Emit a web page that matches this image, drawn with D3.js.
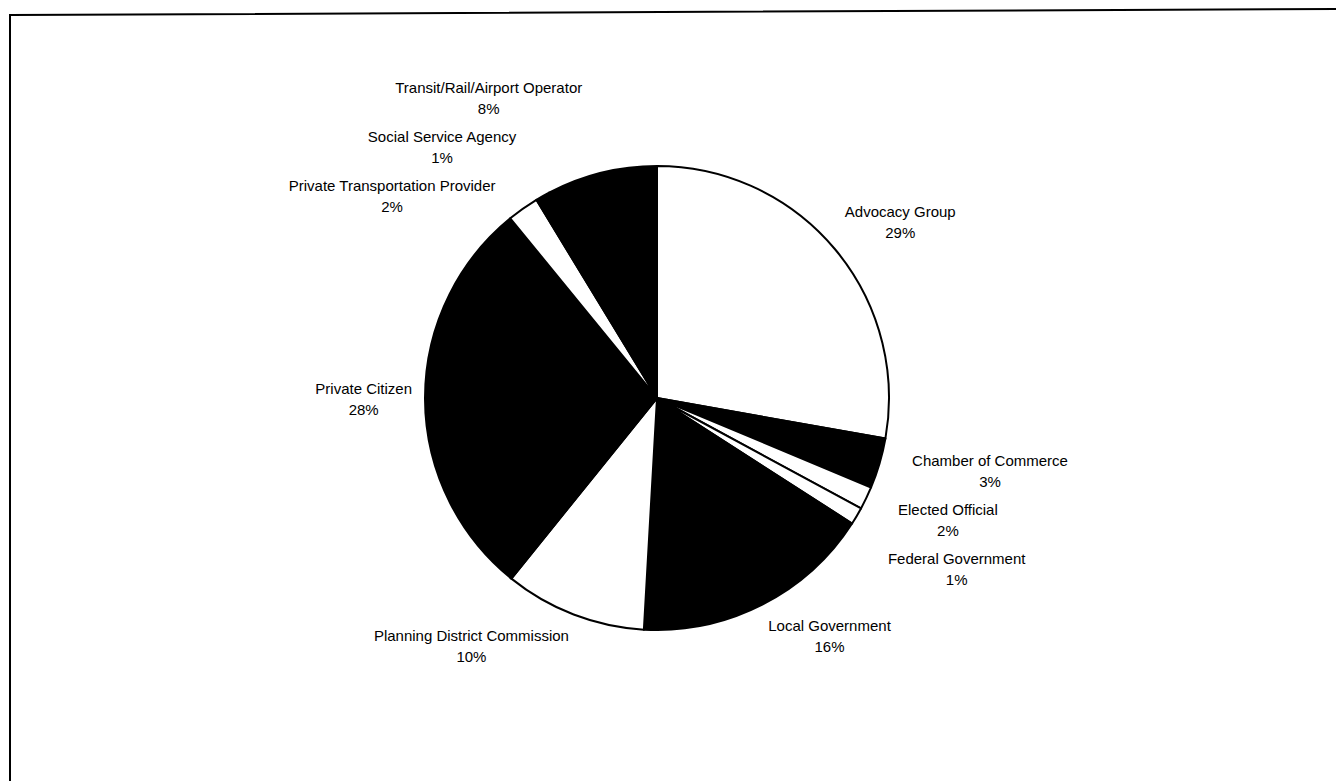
<!DOCTYPE html>
<html>
<head>
<meta charset="utf-8">
<script src="https://cdn.jsdelivr.net/npm/d3@7"></script>
<style>
  html, body { margin: 0; padding: 0; background: #fff; }
  svg { display: block; }
  text { font-family: "Liberation Sans", Arial, sans-serif; font-size: 15px; fill: #000; }
</style>
</head>
<body>
<svg id="chart"></svg>
<script>
// slice data, clockwise from 12 o'clock
const categories = [
  "Advocacy Group",
  "Chamber of Commerce",
  "Elected Official",
  "Federal Government",
  "Local Government",
  "Planning District Commission",
  "Private Citizen",
  "Private Transportation Provider",
  "Social Service Agency",
  "Transit/Rail/Airport Operator"
];
// share of the pie
const shares = [27.8, 3.5, 1.6, 1.2, 16.8, 9.9, 28.3, 2.2, 1.0, 7.7];
// percentages as printed on the chart
const pctLabels = ["29%", "3%", "2%", "1%", "16%", "10%", "28%", "2%", "1%", "8%"];

const data = categories.map((name, i) => ({ name, share: shares[i], pct: pctLabels[i] }));

const width = 1336, height = 781;
const cx = 657, cy = 398, radius = 232;

// black or white slices (the scan turned the patterns solid)
const darkSlices = new Set([
  "Chamber of Commerce", "Local Government", "Private Citizen",
  "Social Service Agency", "Transit/Rail/Airport Operator"
]);

const svg = d3.select("#chart").attr("width", width).attr("height", height);

// scanned page frame
svg.append("path")
  .attr("d", "M10,781 L10,15 L1336,9")
  .attr("fill", "none")
  .attr("stroke", "#000")
  .attr("stroke-width", 2);

const g = svg.append("g").attr("transform", `translate(${cx},${cy})`);

const pie = d3.pie().sort(null).value(d => d.share);
const arc = d3.arc().innerRadius(0).outerRadius(radius);
const arcs = pie(data);

g.selectAll("path.slice")
  .data(arcs)
  .join("path")
  .attr("class", "slice")
  .attr("d", arc)
  .attr("fill", d => darkSlices.has(d.data.name) ? "#000" : "#fff")
  .attr("stroke", "#000")
  .attr("stroke-width", 2)
  .attr("stroke-linejoin", "round");

// labels: two lines, name and percent
const labels = g.selectAll("g.label")
  .data(arcs)
  .join("g")
  .attr("class", "label");

labels.append("text")
  .attr("text-anchor", "middle")
  .attr("y", -5)
  .text(d => d.data.name);

labels.append("text")
  .attr("text-anchor", "middle")
  .attr("y", 16)
  .text(d => d.data.pct);

// place each label box so its nearest corner sits on the slice's mid ray
const labelGap = 13;
const crowdPad = 20;   // extra room for labels that had to be moved
const halfH = 19.5;
const spacing = 49;
const clamp = v => Math.max(-1, Math.min(1, v));

const boxes = [];
labels.each(function(d, i) {
  const texts = d3.select(this).selectAll("text").nodes();
  const w = d3.max(texts, t => t.getComputedTextLength());
  const a = (d.startAngle + d.endAngle) / 2;
  const s = Math.sin(a), c = -Math.cos(a);
  const px = s * (radius + labelGap), py = c * (radius + labelGap);
  const sx = clamp(s * 4), sy = clamp(c * 1.5);
  boxes.push({ i, el: this, hw: w / 2, x: px + sx * w / 2, y: py + sy * halfH, right: s >= 0, moved: false });
});

// push overlapping labels apart, in slice order on each side
// (the first clash is shared by both labels, later ones move only the newcomer)
[true, false].forEach(side => {
  const dir = side ? 1 : -1;
  const list = boxes.filter(b => b.right === side);
  for (let k = 1; k < list.length; k++) {
    const b = list[k], p = list[k - 1];
    if (Math.abs(b.x - p.x) >= b.hw + p.hw) continue;
    const deficit = spacing - dir * (b.y - p.y);
    if (deficit <= 0) continue;
    if (!p.moved) {
      p.y -= dir * deficit / 2;
      b.y += dir * deficit / 2;
    } else {
      b.y += dir * deficit;
    }
    p.moved = b.moved = true;
  }
  list.filter(b => b.moved).forEach(b => { b.x += (side ? 1 : -1) * crowdPad; });
});

boxes.forEach(b => {
  d3.select(b.el).attr("transform", `translate(${b.x},${b.y})`);
});
</script>
</body>
</html>
